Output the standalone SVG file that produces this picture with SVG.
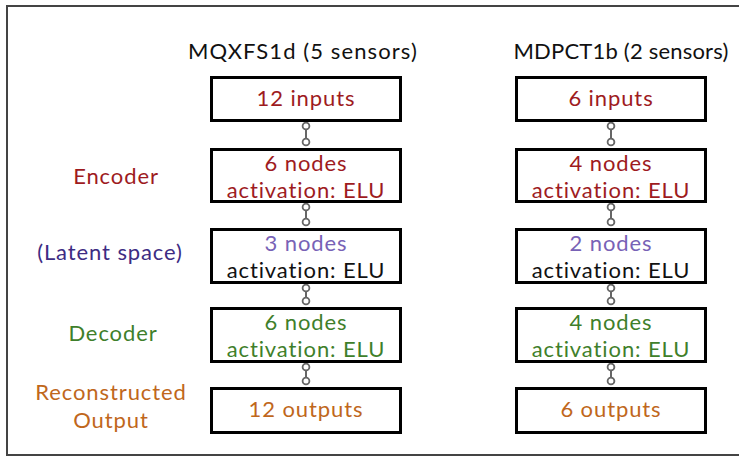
<svg xmlns="http://www.w3.org/2000/svg" width="739" height="458" viewBox="0 0 739 458">
  <style>
    text { font-family: Lato, "Open Sans", "Liberation Sans", sans-serif; font-size: 22px; letter-spacing: 0.9px; }
    .mid { text-anchor: middle; }
    .title { fill: #111; letter-spacing: 1.1px; }
    .title.narrow { letter-spacing: 0.2px; }
    .box { fill: #fff; stroke: #000; stroke-width: 3; }
    .red { fill: #9e1b1e; }
    .purple { fill: #7862b6; }
    .dpurple { fill: #3d2c83; }
    .green { fill: #3f7f2b; }
    .orange { fill: #c0671c; }
    .black { fill: #111; }
    .link line { stroke: #666; stroke-width: 2; }
    .link circle { fill: #fff; stroke: #666; stroke-width: 1.8; }
  </style>

  <!-- frame -->
  <rect x="7" y="6" width="745" height="449" fill="#fff" stroke="#444" stroke-width="2"/>

  <!-- column headings -->
  <text class="title mid" x="303" y="59">MQXFS1d (5 sensors)</text>
  <text class="title narrow mid" x="621" y="59">MDPCT1b (2 sensors)</text>

  <!-- row labels -->
  <g id="labels">
    <text class="red mid" x="116" y="184">Encoder</text>
    <text class="dpurple mid" x="110" y="260">(Latent space)</text>
    <text class="green mid" x="113" y="341">Decoder</text>
    <text class="orange mid" x="111" y="400">Reconstructed</text>
    <text class="orange mid" x="111" y="428">Output</text>
  </g>

  <!-- connectors -->
  <g id="connectors" class="link">
    <g><line x1="306" y1="126" x2="306" y2="142"/><circle cx="306" cy="126" r="3.4"/><circle cx="306" cy="142" r="3.4"/></g>
    <g><line x1="306" y1="207" x2="306" y2="222"/><circle cx="306" cy="207" r="3.4"/><circle cx="306" cy="222" r="3.4"/></g>
    <g><line x1="306" y1="288" x2="306" y2="301"/><circle cx="306" cy="288" r="3.4"/><circle cx="306" cy="301" r="3.4"/></g>
    <g><line x1="306" y1="367" x2="306" y2="381"/><circle cx="306" cy="367" r="3.4"/><circle cx="306" cy="381" r="3.4"/></g>
    <g><line x1="611" y1="126" x2="611" y2="142"/><circle cx="611" cy="126" r="3.4"/><circle cx="611" cy="142" r="3.4"/></g>
    <g><line x1="611" y1="207" x2="611" y2="222"/><circle cx="611" cy="207" r="3.4"/><circle cx="611" cy="222" r="3.4"/></g>
    <g><line x1="611" y1="288" x2="611" y2="301"/><circle cx="611" cy="288" r="3.4"/><circle cx="611" cy="301" r="3.4"/></g>
    <g><line x1="611" y1="367" x2="611" y2="381"/><circle cx="611" cy="367" r="3.4"/><circle cx="611" cy="381" r="3.4"/></g>
  </g>

  <!-- left network -->
  <g id="mqx-input">
    <rect class="box" x="211.5" y="77.5" width="189" height="43"/>
    <text class="red mid" x="306" y="106">12 inputs</text>
  </g>
  <g id="mqx-encoder">
    <rect class="box" x="211.5" y="149.5" width="189" height="52"/>
    <text class="red mid" x="306" y="171">6 nodes</text>
    <text class="red mid" x="306" y="198">activation: ELU</text>
  </g>
  <g id="mqx-latent">
    <rect class="box" x="211.5" y="229.5" width="189" height="53"/>
    <text class="purple mid" x="306" y="251">3 nodes</text>
    <text class="black mid" x="306" y="278">activation: ELU</text>
  </g>
  <g id="mqx-decoder">
    <rect class="box" x="211.5" y="308.5" width="189" height="53"/>
    <text class="green mid" x="306" y="330">6 nodes</text>
    <text class="green mid" x="306" y="357">activation: ELU</text>
  </g>
  <g id="mqx-output">
    <rect class="box" x="211.5" y="388.5" width="189" height="44"/>
    <text class="orange mid" x="306" y="417">12 outputs</text>
  </g>

  <!-- right network -->
  <g id="mdp-input">
    <rect class="box" x="516.5" y="77.5" width="189" height="43"/>
    <text class="red mid" x="611" y="106">6 inputs</text>
  </g>
  <g id="mdp-encoder">
    <rect class="box" x="516.5" y="149.5" width="189" height="52"/>
    <text class="red mid" x="611" y="171">4 nodes</text>
    <text class="red mid" x="611" y="198">activation: ELU</text>
  </g>
  <g id="mdp-latent">
    <rect class="box" x="516.5" y="229.5" width="189" height="53"/>
    <text class="purple mid" x="611" y="251">2 nodes</text>
    <text class="black mid" x="611" y="278">activation: ELU</text>
  </g>
  <g id="mdp-decoder">
    <rect class="box" x="516.5" y="308.5" width="189" height="53"/>
    <text class="green mid" x="611" y="330">4 nodes</text>
    <text class="green mid" x="611" y="357">activation: ELU</text>
  </g>
  <g id="mdp-output">
    <rect class="box" x="516.5" y="388.5" width="189" height="44"/>
    <text class="orange mid" x="611" y="417">6 outputs</text>
  </g>
</svg>
